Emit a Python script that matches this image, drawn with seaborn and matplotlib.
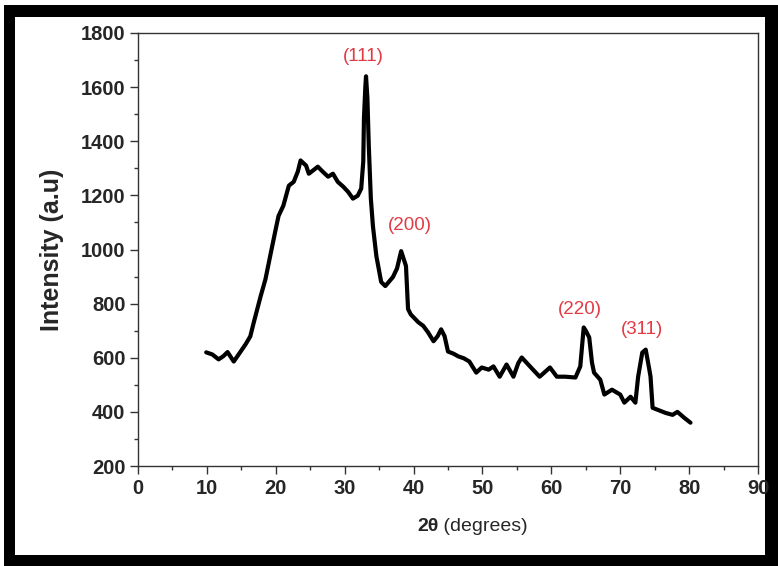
import matplotlib
matplotlib.use("Agg")
import matplotlib.pyplot as plt
import seaborn as sns
from matplotlib.patches import Rectangle
from matplotlib.ticker import MultipleLocator

# XRD pattern
two_theta = [9.9, 10.8, 11.7, 12.4, 13.0, 13.9, 14.9, 15.6, 16.3, 16.8,
             17.8, 18.5, 19.3, 20.0, 20.4, 21.1, 21.9, 22.6, 23.2, 23.6,
             24.4, 24.8, 25.4, 26.1, 26.8, 27.6, 28.3, 29.0, 29.8, 30.5,
             31.2, 31.9, 32.4, 32.7, 32.8, 33.0, 33.1, 33.3, 33.5, 33.8,
             34.1, 34.6, 35.3, 35.9, 37.0, 37.6, 38.2, 38.9, 39.2, 39.6,
             40.7, 41.4, 42.1, 42.9, 43.5, 44.0, 44.5, 45.0, 45.8, 46.5,
             47.3, 48.1, 49.1, 49.9, 50.9, 51.6, 52.5, 53.5, 54.5, 55.2,
             55.7, 56.9, 58.3, 59.1, 59.8, 60.8, 62.0, 63.5, 64.2, 64.7,
             65.0, 65.5, 65.9, 66.2, 67.1, 67.7, 68.8, 70.0, 70.6, 71.5,
             72.2, 72.6, 73.2, 73.7, 74.2, 74.4, 74.7, 75.4, 76.6, 77.6,
             78.3, 79.3, 80.2]
intensity = [620, 612, 594, 606, 621, 586, 623, 649, 679, 730,
             827, 890, 990, 1076, 1124, 1162, 1236, 1250, 1288, 1329,
             1310, 1280, 1292, 1306, 1288, 1269, 1280, 1250, 1232, 1213,
             1188, 1199, 1225, 1325, 1485, 1600, 1640, 1560, 1384, 1188,
             1087, 976, 880, 865, 898, 930, 994, 939, 780, 760,
             731, 718, 694, 661, 680, 705, 680, 623, 615, 605,
             598, 586, 545, 564, 556, 568, 530, 575, 530, 580,
             601, 568, 530, 548, 564, 530, 530, 527, 568, 712,
             700, 675, 582, 545, 519, 464, 482, 464, 434, 456,
             434, 530, 619, 630, 560, 530, 415, 408, 396, 389,
             400, 378, 360]

peak_labels = ["(111)", "(200)", "(220)", "(311)"]
peak_x = [32.7, 39.4, 64.2, 73.2]
peak_y = [1715, 1087, 779, 705]

sns.set_style("ticks")
plt.rcParams['font.family'] = ['Liberation Sans', 'DejaVu Sans']

fig = plt.figure(figsize=(7.78, 5.66), dpi=100)
fig.patch.set_facecolor("white")
# black picture frame, kept behind the axes
fig.patches.append(Rectangle((4 / 778, 0), 774 / 778, 561 / 566, transform=fig.transFigure,
                             facecolor="black", edgecolor="none", zorder=-2))
fig.patches.append(Rectangle((15 / 778, 11 / 566), 750 / 778, 538 / 566, transform=fig.transFigure,
                             facecolor="white", edgecolor="none", zorder=-1))

ax = fig.add_axes([138 / 778, 1 - 466 / 566, 620 / 778, 433 / 566])
ax.set_facecolor("white")

sns.lineplot(x=two_theta, y=intensity, ax=ax, color="black", linewidth=3.0,
             estimator=None, sort=False)

for lab, px, py in zip(peak_labels, peak_x, peak_y):
    ax.text(px, py, lab, color="#e23a44", fontsize=13.5, ha="center", va="center")

ax.set_xlim(0, 90)
ax.set_ylim(200, 1800)
ax.xaxis.set_major_locator(MultipleLocator(10))
ax.xaxis.set_minor_locator(MultipleLocator(5))
ax.yaxis.set_major_locator(MultipleLocator(200))
ax.yaxis.set_minor_locator(MultipleLocator(100))
ax.tick_params(which="major", length=6, width=1, color="#333333", labelsize=14.5, pad=3)
ax.tick_params(which="minor", length=3, width=1, color="#333333")
for lbl in ax.get_xticklabels() + ax.get_yticklabels():
    lbl.set_fontweight("bold")
for sp in ax.spines.values():
    sp.set_visible(True)
    sp.set_color("#333333")
    sp.set_linewidth(1)

ax.set_ylabel("Intensity (a.u)", fontsize=18, fontweight="bold", labelpad=12)
t1 = ax.text(0.45, -0.15, "2θ", transform=ax.transAxes, fontsize=14,
             fontweight="bold", ha="left", va="baseline")
ax.annotate(" (degrees)", xy=(1, 0), xycoords=t1, fontsize=14, va="bottom", ha="left")

fig.savefig("out.png", dpi=100, facecolor=fig.get_facecolor())
